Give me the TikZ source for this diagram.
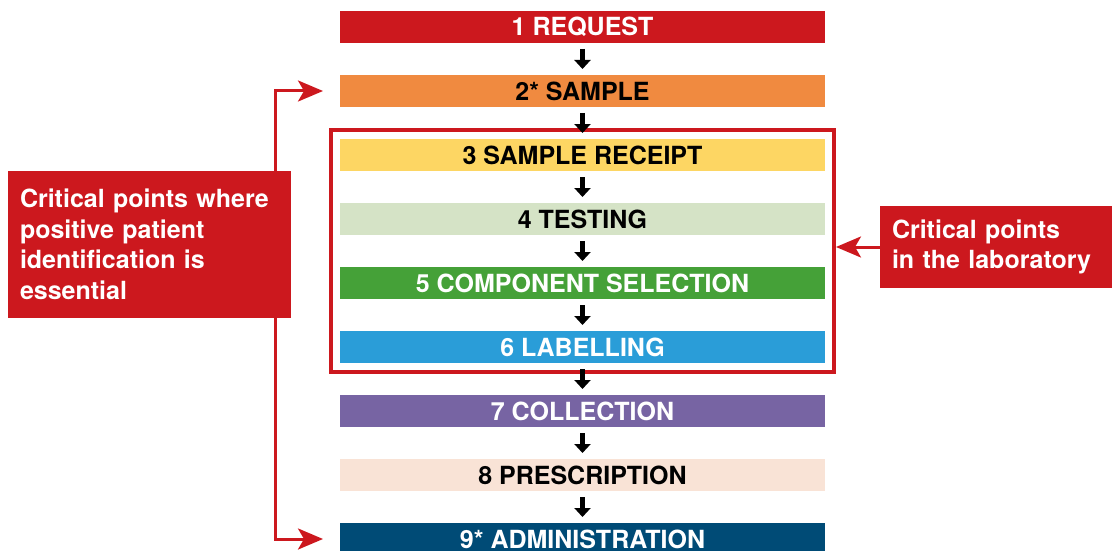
\documentclass[tikz,border=0pt]{standalone}
\usepackage{fontspec}
\setmainfont{TeX Gyre Heros}
\usepackage{tikz}
\usetikzlibrary{arrows.meta, positioning, fit}
\usepackage{xcolor}
\definecolor{critred}{RGB}{204,24,30}
\definecolor{sampleorange}{RGB}{240,138,64}
\definecolor{receiptyellow}{RGB}{253,214,99}
\definecolor{testgreen}{RGB}{213,227,198}
\definecolor{selectgreen}{RGB}{69,161,56}
\definecolor{labelblue}{RGB}{42,157,216}
\definecolor{collectpurple}{RGB}{119,100,163}
\definecolor{prescpeach}{RGB}{249,227,214}
\definecolor{adminblue}{RGB}{0,75,118}

\tikzset{
  stage/.style={minimum width=485pt, minimum height=32pt, inner sep=0pt, outer sep=0pt,
    text height=18pt, text depth=0pt, font=\fontsize{25}{30}\selectfont\bfseries},
  flow/.style={-{Triangle[length=9pt,width=16pt]}, line width=5pt, black},
  callout/.style={fill=critred, text=white, align=left, inner xsep=12pt, inner ysep=0pt,
    font=\fontsize{25}{30.5}\selectfont\bfseries},
  pointer/.style={critred, line width=3pt, -{Stealth[length=25pt,width=21pt,inset=6pt]}},
}

\begin{document}
\begin{tikzpicture}[x=1pt, y=1pt]
  \useasboundingbox (0,0) rectangle (1112,-551);
  % Stages
  \node[stage, fill=critred, text=white] (s1) at (582.5,-27) {1 REQUEST};
  \node[stage, fill=sampleorange, below=32pt of s1] (s2) {2* SAMPLE};
  \node[stage, fill=receiptyellow, below=32pt of s2] (s3) {3 SAMPLE RECEIPT};
  \node[stage, fill=testgreen, below=32pt of s3] (s4) {4 TESTING};
  \node[stage, fill=selectgreen, text=white, below=32pt of s4] (s5) {5 COMPONENT SELECTION};
  \node[stage, fill=labelblue, text=white, below=32pt of s5] (s6) {6 LABELLING};
  \node[stage, fill=collectpurple, text=white, below=32pt of s6] (s7) {7 COLLECTION};
  \node[stage, fill=prescpeach, below=32pt of s7] (s8) {8 PRESCRIPTION};
  \node[stage, fill=adminblue, text=white, below=32pt of s8] (s9) {9* ADMINISTRATION};
  % Laboratory frame
  \node[draw=critred, line width=4pt, inner sep=9pt, fit=(s3)(s6)] (labframe) {};
  % Flow arrows
  \foreach \a/\b in {s1/s2, s2/s3, s3/s4, s4/s5, s5/s6, s6/s7, s7/s8, s8/s9}
    \draw[flow] ([yshift=-6pt]\a.south) -- ([yshift=6pt]\b.north);
  % Identification bracket
  \coordinate (bar) at (275,0);
  \draw[pointer, {Stealth[length=25pt,width=21pt,inset=6pt]}-{Stealth[length=25pt,width=21pt,inset=6pt]}]
    ([xshift=-17pt]s2.west) -| (bar |- s9.west) -- ([xshift=-17pt]s9.west);
  % Callouts
  \node[callout, minimum width=283pt, minimum height=147pt, text width=259pt] (idnote) at (149.5,-244.5)
    {Critical points where\\ positive patient\\ identification is\\ essential};
  \node[callout, minimum width=232pt, minimum height=82pt, text width=208pt] (labnote) at (996,-247)
    {Critical points\\ in the laboratory};
  \draw[pointer] (labnote.west) -- (labnote.west -| labframe.east);
\end{tikzpicture}
\end{document}
